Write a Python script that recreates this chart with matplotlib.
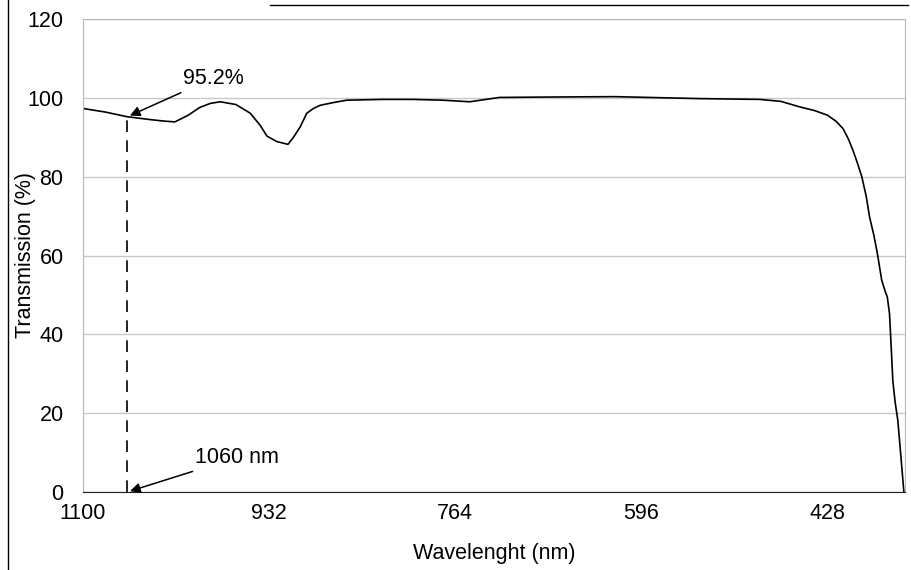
import matplotlib.pyplot as plt
from matplotlib.lines import Line2D
import numpy as np

plt.rcParams['font.family'] = ['Liberation Sans', 'DejaVu Sans']

# transmission spectrum (nm, %)
wavelength = [1100, 1080, 1060, 1040, 1027, 1017, 1005, 995, 985, 976, 962, 949, 940, 934,
              925, 915, 910, 904, 898, 892, 886, 874, 862, 830, 802, 775, 751, 724, 680,
              620, 543, 489, 470, 453, 440, 428, 420, 414, 409, 405, 401, 397, 393, 390,
              386, 383, 379, 376, 374, 372, 370.5, 369, 367, 364.5, 362, 359]
transmission = [97.3, 96.4, 95.2, 94.5, 94.1, 93.9, 95.6, 97.5, 98.6, 99.0, 98.3, 96.1, 93.0, 90.3,
                88.9, 88.2, 90.0, 92.6, 96.1, 97.3, 98.1, 98.8, 99.4, 99.6, 99.6, 99.4, 99.0, 100.1, 100.2,
                100.3, 99.8, 99.6, 99.1, 97.7, 96.8, 95.6, 94.0, 92.2, 89.5, 86.7, 83.5, 80.0, 75.0, 69.8,
                65.0, 60.6, 53.7, 51.0, 49.5, 45.3, 37.0, 28.3, 23.0, 18.2, 10.0, 0.0]

x_ticks = [1100, 932, 764, 596, 428]
y_ticks = [0, 20, 40, 60, 80, 100, 120]

mark_nm = 1060
mark_t = 95.2

fs = 15.5
fig = plt.figure(figsize=(9.12, 5.7), dpi=100)
ax = fig.add_axes([83 / 912, 1 - 492 / 570, (905 - 83) / 912, (492 - 19) / 570])

ax.plot(wavelength, transmission, color='black', lw=1.2)
ax.plot([mark_nm, mark_nm], [0, mark_t], color='black', lw=1.2, ls=(0, (7, 5)))

ax.set_xlim(1100, 358)
ax.set_ylim(0, 120)
ax.set_xticks(x_ticks)
ax.set_yticks(y_ticks)
ax.tick_params(length=0, labelsize=fs)
ax.tick_params(axis='x', pad=8)
ax.tick_params(axis='y', pad=14)
ax.grid(axis='y', color='#c8c8cc', lw=1)
ax.set_axisbelow(True)
for side in ['top', 'right', 'left']:
    ax.spines[side].set_color('#b8b8bc')
ax.spines['bottom'].set_color('#202020')

ax.set_xlabel('Wavelenght (nm)', fontsize=fs, va='center')
ax.set_ylabel('Transmission (%)', fontsize=fs, va='center')
ax.xaxis.set_label_coords(0.5, (492 - 553) / 473)
ax.yaxis.set_label_coords((26 - 83) / 822, 0.5)

arrow = dict(arrowstyle='-|>', color='black', lw=1.1, mutation_scale=15)
ax.annotate('95.2%', xy=(mark_nm, mark_t), xytext=(1010, 102.3), fontsize=fs,
            arrowprops=arrow, va='bottom', ha='left')
ax.annotate('1060 nm', xy=(mark_nm, 0), xytext=(998.5, 8.8), fontsize=fs,
            arrowprops=arrow, va='center', ha='left')

# scan frame edges
fig.add_artist(Line2D([8 / 912, 8 / 912], [0, 1], color='black', lw=1))
fig.add_artist(Line2D([270 / 912, 908 / 912], [1 - 5 / 570, 1 - 5 / 570], color='black', lw=1))

fig.savefig('out.png', dpi=100)
